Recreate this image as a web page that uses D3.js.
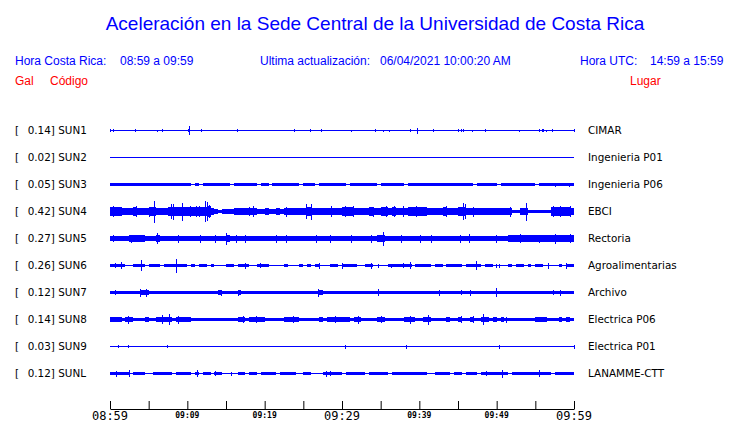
<!DOCTYPE html>
<html><head><meta charset="utf-8">
<script src="https://cdn.jsdelivr.net/npm/d3@7"></script>
<style>
html,body{margin:0;padding:0;background:#fff;}
svg{display:block;}
</style></head>
<body>
<script>
// ---------------- DATA ----------------
const stations = ["SUN1","SUN2","SUN3","SUN4","SUN5","SUN6","SUN7","SUN8","SUN9","SUNL"];
const peakGal  = ["0.14","0.02","0.05","0.42","0.27","0.26","0.12","0.14","0.03","0.12"];
const places   = ["CIMAR","Ingenieria P01","Ingenieria P06","EBCI","Rectoria","Agroalimentarias","Archivo","Electrica P06","Electrica P01","LANAMME-CTT"];

const tickMinutes = [0,5,10,15,20,25,30,35,40,45,50,55,60];
const labelMinutes = [0,10,20,30,40,50,60];
const tickLabels   = ["08:59","09:09","09:19","09:29","09:39","09:49","09:59"];
const majorLabels  = ["08:59","09:29","09:59"];

// envelope level per half-minute (120 bins)
const envSUN1 = "";
const envSUN2 = "";
const envSUN3 = "111111111111111111111010111111101111110110111111101110111111" +
                "101111111011111101111111111111111101111101111111110111111111";
const envSUN4 = "444333433344333444444444453212223333332232232333333433333333" +
                "444333343344343334444433334333443333333333331133111111444443";
const envSUN5 = "222223333222322222222222222222322222222222222222222222222222" +
                "222222222332222222222222222222222222222222233333333333333333";
const envSUN6 = "111100111011101111110101101000110111001110000100010101000110" +
                "111100110000111111011110110111101111011000010110101100001 11".replace(" ","0");
const envSUN7 = "111111112211111111111111111121111211111111111111111111211111" +
                "111111111111111111111111111111111111111111111111111111111111";
const envSUN8 = "222122111211222212222111111111111221222211111222211111212222" +
                "221221111221111122211221111211211211221212111111112221112121";
const envSUN9 = "";
const envSUNL = "111110111001111101111010110110000110110111101111001100011111" +
                "011111011111011111111100111101101110111111101111111111011111";

// isolated spikes: [minute, amplitude level]
const spkSUN1 = [[0,1],[0.5,1],[3.36,1],[6.1,0.5],[6.8,1],[10.1,1],[10.25,4],[11.8,1],[16.55,1],[23.8,1],[25.9,1],[27.3,1],
                 [31.25,0.5],[34.3,1],[35.4,0.5],[36.2,0.5],[38.9,1],[39.7,2.5],[41.8,1],[45.0,1],[45.4,1],[45.65,1],[46.9,0.5],
                 [48.5,1],[53.0,0.5],[55.5,1],[55.9,1],[56.1,1],[56.4,0.5],[57.2,1],[60,1]];
const spkSUN2 = [];
const spkSUN3 = [[57.6,1.5],[59.4,1.5]];
const spkSUN4 = [[0.43,5],[3.45,5],[5.08,4.5],[5.73,10.5],[7.89,7],[8.19,7.5],[9.4,8.5],[10.35,5],[11.2,5],[11.6,5],
                 [12.41,10],[12.58,9],[12.84,6],[18.1,4],[18.5,5],[22.85,4.5],[25.4,7],[26.07,7.5],[28.67,5],
                 [30.4,5],[31.46,5],[34.05,4.5],[35.78,5],[36.85,5],[37.93,5],[39.66,5],[43.45,5],[45.69,8],[45.95,7],
                 [46.98,4.5],[51.8,4.5],[53.8,8.5],[57.3,5],[58.2,5],[59.5,5]];
const spkSUN5 = [[0.43,3],[2.8,3.5],[6.12,5],[8.84,3.5],[11.64,3.5],[13.58,3.5],[15.0,5.5],[16.38,3.5],[17.46,3.5],
                 [21.55,3.5],[22.85,3.5],[26.73,3.5],[28.45,3.5],[31.25,3.5],[33.84,3.5],[35.35,6.5],[37.72,3.5],
                 [40.09,3.5],[41.6,3.5],[45.26,3.5],[46.55,4],[50.0,3.5],[53.02,4],[55.6,3.5],[57.55,4.5],[59.5,4]];
const spkSUN6 = [[0.73,1.8],[1.51,2.8],[4.05,5],[8.58,6.5],[17.5,2.5],[19.4,2.3],[27.07,2.5],[30.09,2.5],[33.84,2.5],
                 [34.7,1.5],[36.42,1.5],[37.93,2],[38.8,3],[47.33,4],[49.92,1.5],[50.43,1.5],[56.68,2.5],[59.06,2.5]];
const spkSUN7 = [[0.65,2.3],[3.88,3.5],[4.74,3.5],[14.44,2.5],[16.6,2.5],[26.94,3.5],[34.7,3],[42.67,2.5],[45.48,2.3],
                 [46.68,2.5],[49.92,3.8],[57.33,2.3],[58.19,2.5]];
const spkSUN8 = [[2.37,3.5],[6.81,4],[7.63,5],[8.92,3.5],[17.24,3],[18.97,3],[23.71,3],[29.1,3],[32.11,3.5],[35.13,3.2],
                 [38.8,3.5],[41.16,4.5],[45.48,3],[46.98,3],[48.36,5],[51.3,2.5]];
const spkSUN9 = [[1.08,1],[2.37,1],[7.41,1],[30.39,1.5],[38.36,1.5],[50.35,1.5],[60,1.5]];
const spkSUNL = [[0.86,2.5],[2.5,3],[11.29,3],[13.58,2],[15.73,1.5],[28.02,2.5],[28.45,2],[48.71,2],[50.74,3.5],[55.48,3]];

const envelopes = [envSUN1,envSUN2,envSUN3,envSUN4,envSUN5,envSUN6,envSUN7,envSUN8,envSUN9,envSUNL];
const spikes    = [spkSUN1,spkSUN2,spkSUN3,spkSUN4,spkSUN5,spkSUN6,spkSUN7,spkSUN8,spkSUN9,spkSUNL];

const titleText = "Aceleración en la Sede Central de la Universidad de Costa Rica";

// ---------------- CHART ----------------
const W = 740, H = 423;
const BLUE = "#0000ff", RED = "#ff0000";
const svg = d3.select("body").append("svg").attr("width", W).attr("height", H);

const x = d3.scaleLinear().domain([0, 60]).range([110, 574]);
const y = d3.scalePoint().domain(stations).range([130.5, 373.5]);
const amp = d3.scaleLinear().domain([0, 1]).range([0.5, 1.5]);
const binMin = 0.5;

// Title & header
svg.append("text").attr("x", 375).attr("y", 30).attr("text-anchor", "middle")
  .attr("font-family", "Liberation Sans, Arial, sans-serif").attr("font-size", 19)
  .attr("fill", BLUE).text(titleText);

const hdr = [
  [15, "Hora Costa Rica:", BLUE], [120, "08:59 a 09:59", BLUE],
  [260, "Ultima actualización:", BLUE], [380, "06/04/2021 10:00:20 AM", BLUE],
  [580, "Hora UTC:", BLUE], [650, "14:59 a 15:59", BLUE]
];
svg.selectAll("text.hdr").data(hdr).join("text").attr("class","hdr")
  .attr("x", d => d[0]).attr("y", 65)
  .attr("font-family", "Liberation Sans, Arial, sans-serif").attr("font-size", 12)
  .attr("fill", d => d[2]).text(d => d[1]);

const sub = [[15, "Gal"], [50, "Código"], [630, "Lugar"]];
svg.selectAll("text.sub").data(sub).join("text").attr("class","sub")
  .attr("x", d => d[0]).attr("y", 85)
  .attr("font-family", "Liberation Sans, Arial, sans-serif").attr("font-size", 12)
  .attr("fill", RED).text(d => d[1]);

// Row labels
const lblFont = "DejaVu Sans, sans-serif";
const rows = svg.append("g");
stations.forEach((s, i) => {
  const cy = y(s);
  rows.append("text").attr("x", 15).attr("y", cy + 3.5).attr("font-family", lblFont)
    .attr("font-size", 10.4).attr("fill", "#000").text("[");
  rows.append("text").attr("x", 27.7).attr("y", cy + 3.5).attr("font-family", lblFont)
    .attr("font-size", 10.4).attr("fill", "#000").text(peakGal[i] + "] " + s);
  rows.append("text").attr("x", 588).attr("y", cy + 3.5).attr("font-family", lblFont)
    .attr("font-size", 10.4).attr("fill", "#000").text(places[i]);
});

// Traces
const traces = svg.append("g").attr("shape-rendering", "crispEdges");
stations.forEach((s, i) => {
  const cy = y(s);
  const lv = envelopes[i].split("").map(Number);
  const pts = [];
  const nb = 120;
  for (let b = 0; b < nb; b++) pts.push({t: b * binMin, v: lv.length ? lv[b] : 0});
  pts.push({t: 60, v: pts[pts.length - 1].v});
  const area = d3.area().curve(d3.curveStepAfter)
    .x(d => x(d.t)).y0(d => cy + amp(d.v)).y1(d => cy - amp(d.v));
  traces.append("path").attr("d", area(pts)).attr("fill", BLUE);
  traces.selectAll(null).data(spikes[i]).join("line")
    .attr("x1", d => x(d[0])).attr("x2", d => x(d[0]))
    .attr("y1", d => cy - amp(d[1])).attr("y2", d => cy + amp(d[1]))
    .attr("stroke", BLUE).attr("stroke-width", 1);
});

// Axis
const axisY = 409;
const ax = svg.append("g").attr("transform", `translate(0,${axisY})`)
  .call(d3.axisTop(x).tickValues(tickMinutes).tickSize(8).tickSizeOuter(0).tickFormat(""));
ax.select(".domain").attr("stroke", "#000");
ax.selectAll(".tick line").attr("stroke", "#000");

svg.selectAll("text.tl").data(labelMinutes).join("text").attr("class","tl")
  .attr("x", d => x(d)).attr("text-anchor", "middle")
  .attr("y", (d, i) => majorLabels.includes(tickLabels[i]) ? 419.5 : 417.5)
  .attr("font-family", "DejaVu Sans Mono, monospace")
  .attr("font-size", (d, i) => majorLabels.includes(tickLabels[i]) ? 12 : 8)
  .attr("font-weight", (d, i) => majorLabels.includes(tickLabels[i]) ? "normal" : "bold")
  .attr("fill", "#000")
  .text((d, i) => tickLabels[i]);
</script>
</body></html>
